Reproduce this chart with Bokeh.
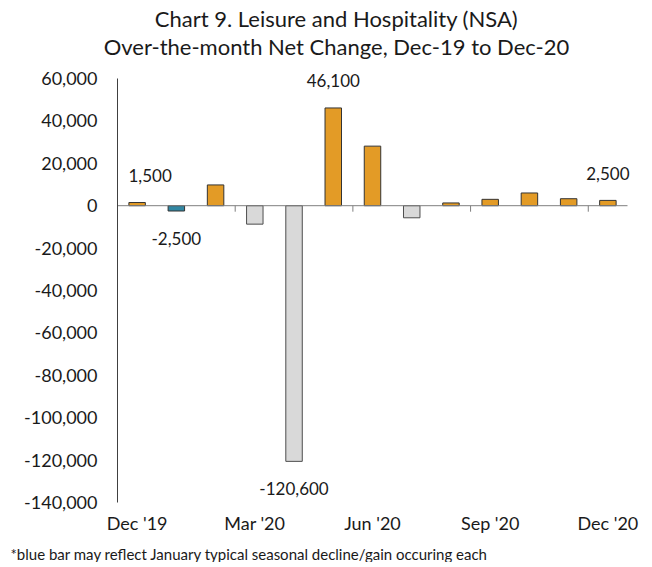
from bokeh.plotting import figure
from bokeh.layouts import column
from bokeh.models import (Range1d, FixedTicker, NumeralTickFormatter, Label,
                          ColumnDataSource)
from bokeh.core.properties import value
from bokeh.embed import file_html
from bokeh.resources import INLINE

# ---- data ----
months = ["Dec '19", "Jan '20", "Feb '20", "Mar '20", "Apr '20", "May '20", "Jun '20",
          "Jul '20", "Aug '20", "Sep '20", "Oct '20", "Nov '20", "Dec '20"]
net_change = [1500, -2500, 9800, -8700, -120600, 46100, 28100,
              -5700, 1300, 3000, 6000, 3300, 2500]
seasonal_months = ["Jan '20"]
labeled_months = ["Dec '19", "Jan '20", "Apr '20", "May '20", "Dec '20"]
x_tick_labels = ["Dec '19", "Mar '20", "Jun '20", "Sep '20", "Dec '20"]
y_ticks = [-140000, -120000, -100000, -80000, -60000, -40000, -20000, 0, 20000, 40000, 60000]
title_lines = ["Chart 9. Leisure and Hospitality (NSA)",
               "Over-the-month Net Change, Dec-19 to Dec-20"]
footnote = "*blue bar may reflect January typical seasonal decline/gain occuring each"

# ---- style ----
FONT = "Lato"
ORANGE, TEAL, GRAY = "#E39B26", "#3187A3", "#D9D9D9"
TXT = "#1a1a1a"
W = 644
HEADER_H, MAIN_H, FOOTER_H = 62, 478, 22
AXIS_LEFT, AXIS_RIGHT = 117, 627            # pixel extent of the category axis
RIGHT_PAD_PX = 10                           # room for the last data label
AXIS_TOP_PX, AXIS_BOTTOM_PX = 16, 440       # y-axis extent inside the frame (px from frame top)
label_x_offset = {"Dec '19": 13}            # manual label nudges (px)


def blank(height, width=W):
    f = figure(width=width, height=height, x_range=Range1d(0, width),
               y_range=Range1d(height, 0), output_backend="svg",
               toolbar_location=None, x_axis_location=None, y_axis_location=None,
               min_border=0)
    f.frame_align = False
    f.outline_line_color = None
    f.grid.visible = False
    return f


# ---- header ----
header = blank(HEADER_H)
for ypos, t in zip([18, 46], title_lines):
    header.add_layout(Label(x=336, y=ypos, text=t, text_align="center",
                            text_baseline="middle", text_font=FONT,
                            text_font_size="22px", text_color=TXT))

# ---- main chart ----
n = len(months)
idx = list(range(n))
fills, lines = [], []
for m, v in zip(months, net_change):
    if m in seasonal_months:
        fills.append(TEAL); lines.append("#333333")
    elif v >= 0:
        fills.append(ORANGE); lines.append("#333333")
    else:
        fills.append(GRAY); lines.append("#4d4d4d")

units_per_px = (y_ticks[-1] - y_ticks[0]) / (AXIS_BOTTOM_PX - AXIS_TOP_PX)
y_end = y_ticks[-1] + AXIS_TOP_PX * units_per_px
cats_per_px = n / (AXIS_RIGHT - AXIS_LEFT)
frame_right = AXIS_RIGHT + RIGHT_PAD_PX

p = figure(width=W, height=MAIN_H,
           x_range=Range1d(-0.5, n - 0.5 + RIGHT_PAD_PX * cats_per_px),
           y_range=Range1d(y_ticks[0], y_end),
           output_backend="svg", toolbar_location=None,
           min_border_left=AXIS_LEFT, min_border_right=W - frame_right,
           min_border_top=0, min_border_bottom=MAIN_H - AXIS_BOTTOM_PX)
p.frame_align = False
p.outline_line_color = None
p.grid.visible = False

src = ColumnDataSource(dict(x=idx, top=net_change, fill=fills, line=lines))
p.vbar(x="x", top="top", bottom=0, width=0.42, fill_color="fill",
       line_color="line", line_width=1, source=src)

# zero line (category axis) + tick marks every 3 months
p.segment(x0=[-0.5], y0=[0], x1=[n - 0.5], y1=[0], line_color="#7f7f7f", line_width=1)
tick_len = 6 * units_per_px
bounds = [i + 2.5 for i in range(0, n - 1, 3)]
p.segment(x0=bounds, y0=[0] * len(bounds), x1=bounds, y1=[-tick_len] * len(bounds),
          line_color="#7f7f7f", line_width=1)

# data labels
lx, ly, lt, yoff, xoff = [], [], [], [], []
for i, (m, v) in enumerate(zip(months, net_change)):
    if m in labeled_months:
        lx.append(i); ly.append(v); lt.append(f"{v:,}")
        yoff.append(-27 if v > 0 else 27)
        xoff.append(label_x_offset.get(m, 0))
p.text(x=lx, y=ly, text=lt, x_offset=xoff, y_offset=yoff, text_align="center",
       text_baseline="middle", text_font=value(FONT), text_font_size="17px",
       text_color=TXT)

# axes
yax = p.yaxis[0]
yax.ticker = FixedTicker(ticks=y_ticks)
yax.bounds = (y_ticks[0], y_ticks[-1])
yax.formatter = NumeralTickFormatter(format="0,0")
yax.major_tick_line_color = None
yax.minor_tick_line_color = None
yax.major_tick_out = 0
yax.major_tick_in = 0
yax.axis_line_color = "#404040"
yax.major_label_standoff = 20
yax.major_label_text_font = FONT
yax.major_label_text_font_size = "18px"
yax.major_label_text_color = TXT

xax = p.xaxis[0]
xax.ticker = FixedTicker(ticks=[months.index(m) for m in x_tick_labels])
xax.major_label_overrides = {months.index(m): m for m in x_tick_labels}
xax.axis_line_color = None
xax.major_tick_line_color = None
xax.minor_tick_line_color = None
xax.major_tick_out = 0
xax.major_tick_in = 0
xax.major_label_standoff = 9
xax.major_label_text_font = FONT
xax.major_label_text_font_size = "18px"
xax.major_label_text_color = TXT

# ---- footer ----
footer = blank(FOOTER_H)
footer.add_layout(Label(x=10, y=13, text=footnote, text_align="left",
                        text_baseline="middle", text_font=FONT,
                        text_font_size="15px", text_color=TXT))

layout = column(header, p, footer, spacing=0)
open("out.html", "w").write(file_html(layout, INLINE))
